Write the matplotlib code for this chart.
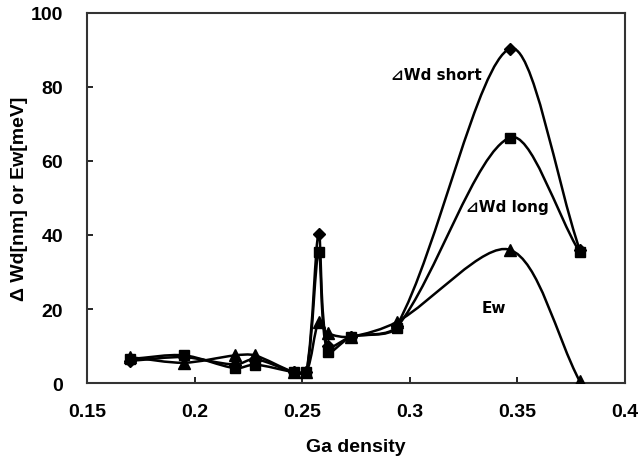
import matplotlib
matplotlib.use("Agg")
import matplotlib.pyplot as plt
from matplotlib.path import Path
from matplotlib.patches import PathPatch
import numpy as np

ga_density = [0.170, 0.195, 0.219, 0.228, 0.246, 0.252, 0.2577, 0.2618, 0.2725, 0.294, 0.3465, 0.379]
wd_short = [6.0, 7.0, 5.0, 6.5, 3.0, 3.0, 40.3, 10.0, 12.5, 15.5, 90.3, 36.0]
wd_long = [6.5, 7.5, 4.0, 5.0, 3.0, 3.0, 35.3, 8.5, 12.4, 15.0, 66.3, 35.3]
ew = [7.0, 5.5, 7.5, 7.5, 3.0, 3.0, 16.5, 13.5, 12.5, 16.5, 36.0, 0.5]

x_ticks = [0.15, 0.2, 0.25, 0.3, 0.35, 0.4]
x_tick_labels = ["0.15", "0.2", "0.25", "0.3", "0.35", "0.4"]
y_ticks = [0, 20, 40, 60, 80, 100]

plt.rcParams['font.family'] = ['Liberation Sans', 'DejaVu Sans']

# approximate display scaling (px per data unit) used only for smoothing weights
SX, SY = 2152.0, 3.71


def smooth_path(xs, ys):
    pts = np.column_stack([np.asarray(xs) * SX, np.asarray(ys) * SY])
    n = len(pts)
    verts = [pts[0]]
    codes = [Path.MOVETO]

    def tangent(i):
        if i == 0 or i == n - 1:
            return None
        p0, p1, p2 = pts[i - 1], pts[i], pts[i + 1]
        d01 = np.hypot(*(p1 - p0))
        d12 = np.hypot(*(p2 - p1))
        return (p2 - p0), d01, d12

    for i in range(n - 1):
        p1, p2 = pts[i], pts[i + 1]
        t1 = tangent(i)
        t2 = tangent(i + 1)
        if t1 is None:
            c1 = p1 + (p2 - p1) / 3.0
        else:
            v, d01, d12 = t1
            c1 = p1 + v * (d12 / (d01 + d12)) / 3.0 * 0.9
        if t2 is None:
            c2 = p2 - (p2 - p1) / 3.0
        else:
            v, d01, d12 = t2
            c2 = p2 - v * (d01 / (d01 + d12)) / 3.0 * 0.9
        verts += [c1, c2, p2]
        codes += [Path.CURVE4] * 3
    verts = np.array(verts)
    verts[:, 0] /= SX
    verts[:, 1] /= SY
    return Path(verts, codes)


fig = plt.figure(figsize=(6.39, 4.60), dpi=100)
ax = fig.add_axes([0.136, 0.165, 0.842, 0.805])

for ys, mk, ms in [(wd_short, 'D', 6.5), (wd_long, 's', 7.5), (ew, '^', 8)]:
    ax.add_patch(PathPatch(smooth_path(ga_density, ys), facecolor='none',
                           edgecolor='black', lw=1.8, zorder=2))
    ax.plot(ga_density, ys, linestyle='none', marker=mk, markersize=ms,
            color='black', zorder=3)

ax.set_xlim(0.15, 0.4)
ax.set_ylim(0, 100)
ax.set_xticks(x_ticks)
ax.set_xticklabels(x_tick_labels)
ax.set_yticks(y_ticks)
ax.tick_params(direction='in', length=4, width=1.2, labelsize=14)
ax.tick_params(axis='x', pad=14)
ax.tick_params(axis='y', pad=17)
for lab in ax.get_xticklabels() + ax.get_yticklabels():
    lab.set_fontweight('bold')
for s in ax.spines.values():
    s.set_color('#333333')
    s.set_linewidth(1.5)

ax.set_xlabel("Ga density", fontsize=14, fontweight='bold')
ax.set_ylabel("\u0394 Wd[nm] or Ew[meV]", fontsize=14, fontweight='bold')
ax.xaxis.set_label_coords(0.5, -0.148)
ax.yaxis.set_label_coords(-0.11, 0.5)

tfam = ['DejaVu Sans', 'Liberation Sans']
ax.text(0.2914, 83.3, "\u22bfWd short", fontsize=11, fontweight='bold', va='center', ha='left', family=tfam)
ax.text(0.326, 47.8, "\u22bfWd long", fontsize=11, fontweight='bold', va='center', ha='left', family=tfam)
ax.text(0.339, 20.5, "Ew", fontsize=11, fontweight='bold', va='center', ha='center', family=tfam)

fig.savefig("out.png", dpi=100)
